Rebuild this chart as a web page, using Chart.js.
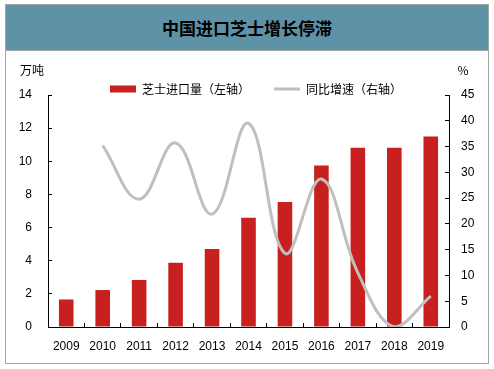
<!DOCTYPE html>
<html>
<head>
<meta charset="utf-8">
<script src="https://cdn.jsdelivr.net/npm/chart.js@4"></script>
<style>
  body { margin: 0; background: #fff; }
  #frame { position: absolute; left: 5px; top: 4px; width: 482px; height: 358px; border: 1px solid #a6a6a6; }
  #title { height: 45px; display: flex; align-items: center; justify-content: center;
           background: #5e92a7; border-bottom: 1px solid #a6a6a6;
           font: bold 17px "Noto Sans CJK SC", sans-serif; color: #000; }
  #wrap { position: relative; width: 482px; height: 312px; }
</style>
</head>
<body>
<div id="frame">
  <div id="title">中国进口芝士增长停滞</div>
  <div id="wrap"><canvas id="cheeseChart"></canvas></div>
</div>
<script>
// data
var years = ['2009', '2010', '2011', '2012', '2013', '2014', '2015', '2016', '2017', '2018', '2019'];
var importVolume = [1.66, 2.23, 2.84, 3.88, 4.71, 6.59, 7.55, 9.74, 10.82, 10.82, 11.5]; // 万吨
var yoyGrowth = [null, 35.2, 24.8, 35.7, 21.9, 39.5, 14.3, 28.7, 10.5, 0, 6.0];        // %
var seriesNames = ['芝士进口量（左轴）', '同比增速（右轴）'];
var leftUnit = '万吨', rightUnit = '%';

var tickFont = { family: '"Liberation Sans", Arial, sans-serif', size: 12 };
var cjkFont = '"Noto Sans CJK SC", sans-serif';

// unit labels above both y axes, plus a small nudge of the legend
var unitLabels = {
    id: 'unitLabels',
    afterLayout: function (chart) {
        chart.legend.left += 9;
        chart.legend.right += 9;
    },
    afterDraw: function (chart) {
        var ctx = chart.ctx, a = chart.chartArea;
        ctx.save();
        ctx.font = '12px ' + cjkFont;
        ctx.fillStyle = '#000';
        ctx.textAlign = 'center';
        ctx.textBaseline = 'middle';
        ctx.fillText(leftUnit, chart.scales.y.right - 16, a.top - 25);
        ctx.fillText(rightUnit, chart.scales.y1.left + 14, a.top - 25);
        ctx.restore();
    }
};

var ctx = document.getElementById('cheeseChart').getContext('2d');
new Chart(ctx, {
    type: 'bar',
    data: {
        labels: years,
        datasets: [
            {
                label: seriesNames[0],
                data: importVolume,
                backgroundColor: '#c8201f',
                yAxisID: 'y',
                categoryPercentage: 1,
                barPercentage: 0.4,
                order: 2
            },
            {
                type: 'line',
                label: seriesNames[1],
                data: yoyGrowth,
                borderColor: '#bfbfbf',
                backgroundColor: '#bfbfbf',
                borderWidth: 3,
                pointRadius: 0,
                tension: 0.4,
                yAxisID: 'y1',
                order: 1
            }
        ]
    },
    options: {
        responsive: true,
        maintainAspectRatio: false,
        animation: false,
        layout: { padding: { top: 8, left: 0, right: 0, bottom: 0 } },
        plugins: {
            tooltip: { enabled: false },
            legend: {
                position: 'top',
                maxHeight: 36,
                labels: {
                    color: '#000',
                    font: { family: cjkFont, size: 12 },
                    usePointStyle: true,
                    pointStyleWidth: 26,
                    boxHeight: 7,
                    padding: 24,
                    generateLabels: function (chart) {
                        var items = Chart.defaults.plugins.legend.labels.generateLabels(chart);
                        items.forEach(function (it) {
                            if (it.datasetIndex === 0) {
                                it.pointStyle = 'rect';
                                it.lineWidth = 0;
                            } else {
                                it.pointStyle = 'line';
                                it.lineWidth = 3;
                                it.strokeStyle = '#bfbfbf';
                            }
                        });
                        items.sort(function (a, b) { return a.datasetIndex - b.datasetIndex; });
                        return items;
                    }
                }
            }
        },
        scales: {
            x: {
                grid: { display: true, drawOnChartArea: false, drawTicks: true, tickLength: -4, color: '#000', offset: true },
                border: { display: true, color: '#000', width: 1 },
                ticks: { color: '#000', font: tickFont, padding: 16, maxRotation: 0 },
                afterFit: function (s) { s.height = 36; }
            },
            y: {
                position: 'left',
                min: 0, max: 14,
                grid: { display: true, drawOnChartArea: false, drawTicks: true, tickLength: -4, color: '#000' },
                border: { display: true, color: '#000', width: 1 },
                ticks: { stepSize: 2, color: '#000', font: tickFont, padding: 20 },
                afterFit: function (s) { s.width = 42; }
            },
            y1: {
                position: 'right',
                min: 0, max: 45,
                grid: { display: true, drawOnChartArea: false, drawTicks: true, tickLength: -4, color: '#000' },
                border: { display: true, color: '#000', width: 1 },
                ticks: { stepSize: 5, color: '#000', font: tickFont, padding: 16 },
                afterFit: function (s) { s.width = 39; }
            }
        }
    },
    plugins: [unitLabels]
});
</script>
</body>
</html>
